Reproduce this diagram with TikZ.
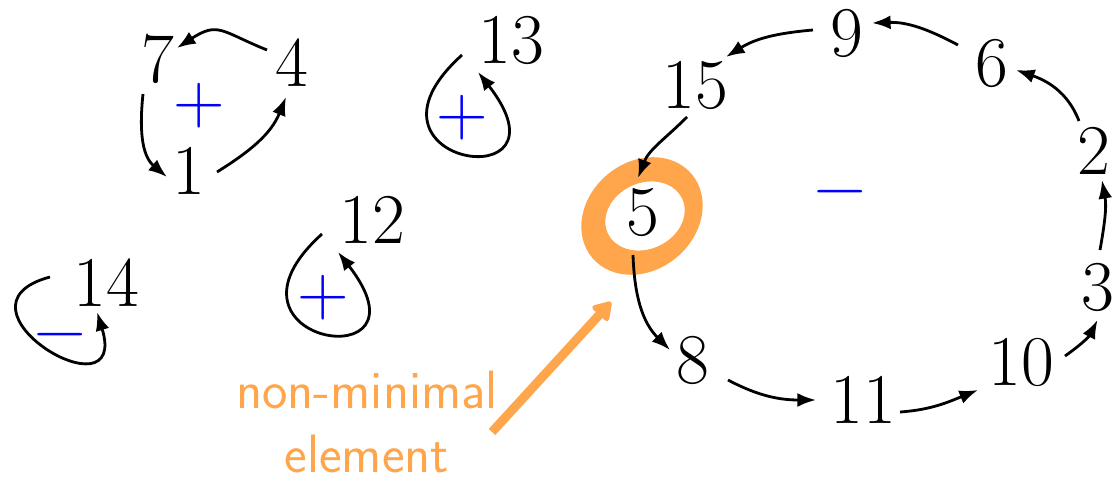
\documentclass[tikz,border=0pt]{standalone}
\usepackage{fontspec}
\usetikzlibrary{arrows.meta,calc}
\definecolor{hilite}{RGB}{255,166,77}

\begin{document}
\begin{tikzpicture}[
  x=0.5pt,y=0.5pt,
  elem/.style={inner sep=0pt,font=\fontsize{35.7}{40}\selectfont},
  sign/.style={elem,text=blue},
  edge/.style={line width=1.4pt,-{Latex}},
  selfloop/.style={edge,out=222,in=-52,distance=82pt}
]
  \useasboundingbox (0,0) rectangle (1113,482);

  \node[elem] (v7) at (157.5,423) {7};
  \node[elem] (v4) at (292,419.5) {4};
  \node[elem] (v1) at (189,311) {1};
  \node[sign] (s1) at (199.5,376.5) {+};
  \node[elem] (v13) at (511,442) {13};
  \node[sign] (s13) at (462,364) {+};
  \node[elem] (v12) at (372,262) {12};
  \node[sign] (s12) at (323,184) {+};
  \node[elem] (v14) at (106,199) {14};
  \node[sign] (s14) at (60,139) {−};

  \node[elem] (v15) at (695,397) {15};
  \node[elem] (v9) at (847,449) {9};
  \node[elem] (v6) at (992,418.5) {6};
  \node[elem] (v2) at (1093.5,331) {2};
  \node[elem] (v3) at (1097.5,195) {3};
  \node[elem] (v10) at (1021,119.5) {10};
  \node[elem] (v11) at (863,82) {11};
  \node[elem] (v8) at (693,122) {8};
  \node[elem] (v5) at (642.5,269.5) {5};
  \node[sign] (s5) at (840,282) {−};

  \node[text=hilite,font=\sffamily\fontsize{27}{32}\selectfont,align=center,inner sep=0pt,anchor=north] (note) at (367,111) {non-minimal\\element};

  \fill[hilite,even odd rule] ($(v5)+(-0.5,-3.5)$) ellipse[x radius=65,y radius=54,rotate=40]
    ($(v5)+(2.5,-3.5)$) ellipse[x radius=41,y radius=33,rotate=25];
  \coordinate (tail) at (492,50);
  \draw[hilite,line width=4.5pt,-{Triangle[length=10pt,width=12pt,round]}] (tail) -- ($(v5)+(-31.5,-89.5)$);

  \draw[edge] ($(v4)+(-25,12.5)$) to[out=158,in=33,looseness=1.4] ($(v7)+(19.5,11)$);
  \draw[edge] ($(v7)+(-14.5,-35)$) to[out=264,in=140] ($(v1)+(-22,-6)$);
  \draw[edge] ($(v1)+(28,-1)$) to[out=32,in=-112] ($(v4)+(-6,-34.5)$);

  \draw[edge] ($(v14)+(-56,6)$) to[out=195,in=-73,distance=57pt] ($(v14)+(-9,-29)$);
  \draw[selfloop] ($(v12)+(-50,-14)$) to ($(v12)+(-34,-32)$);
  \draw[selfloop] ($(v13)+(-49,-15)$) to ($(v13)+(-33,-32)$);

  \draw[edge] ($(v9)+(-34,3)$) to[out=185,in=32] ($(v15)+(31,28)$);
  \draw[edge] ($(v6)+(-34,18.5)$) to[out=152,in=2] ($(v9)+(25,10)$);
  \draw[edge] ($(v2)+(-14.5,30)$) to[out=111,in=-19] ($(v6)+(24,-6.5)$);
  \draw[edge] ($(v3)+(2.5,37)$) to[out=80,in=-80] ($(v2)+(8.5,-29)$);
  \draw[edge] ($(v10)+(44,6.5)$) to[out=35,in=-117] ($(v3)+(0,-33)$);
  \draw[edge] ($(v11)+(37,-12)$) to[out=4,in=202] ($(v10)+(-43,-27.5)$);
  \draw[edge] ($(v8)+(35,-20)$) to[out=-28,in=180] ($(v11)+(-47,0)$);
  \draw[edge] ($(v5)+(-9.5,-42.5)$) to[out=-88,in=135] ($(v8)+(-23,10)$);
  \draw[edge] ($(v15)+(-8,-32)$) to[out=225,in=69] ($(v5)+(-4.5,34.5)$);
\end{tikzpicture}
\end{document}
